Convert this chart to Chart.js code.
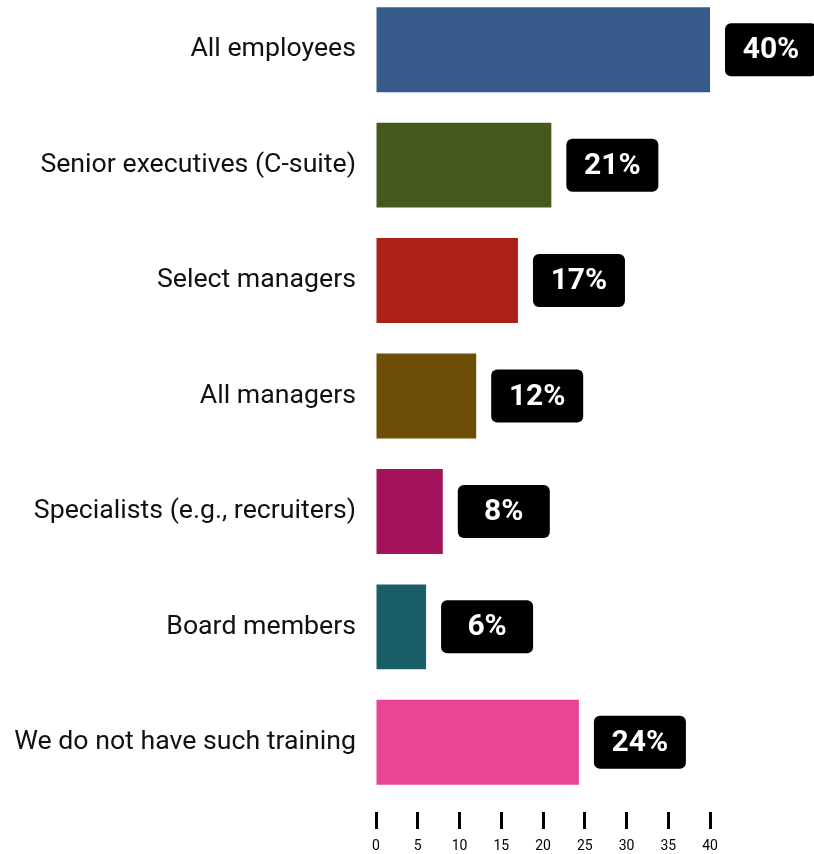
<!DOCTYPE html>
<html>
<head>
<meta charset="utf-8">
<script src="https://cdn.jsdelivr.net/npm/chart.js@4"></script>
<style>
  html, body { margin: 0; padding: 0; background: #fff; overflow: hidden; }
  #wrap { position: absolute; left: 0; top: -8px; width: 814px; height: 862px; }
</style>
</head>
<body>
<div id="wrap"><canvas id="chart" width="814" height="862"></canvas></div>
<script>
// data
const categories = [
    'All employees',
    'Senior executives (C-suite)',
    'Select managers',
    'All managers',
    'Specialists (e.g., recruiters)',
    'Board members',
    'We do not have such training'
];
const values = [40, 21, 17, 12, 8, 6, 24.3];
const valueLabels = ['40%', '21%', '17%', '12%', '8%', '6%', '24%'];
const barColors = ['#365b8a', '#45591d', '#ab2118', '#6e4d06', '#a3125a', '#1a5f68', '#eb4497'];
const xTicks = [0, 5, 10, 15, 20, 25, 30, 35, 40];

// black value boxes to the right of each bar
const valueBoxes = {
    id: 'valueBoxes',
    afterDatasetsDraw(chart) {
        const ctx = chart.ctx;
        const meta = chart.getDatasetMeta(0);
        ctx.save();
        meta.data.forEach(function (bar, i) {
            const x = bar.x + 15;
            const y = bar.y - 26.5;
            ctx.fillStyle = '#000';
            ctx.beginPath();
            ctx.roundRect(x, y, 92, 53, 6);
            ctx.fill();
            ctx.fillStyle = '#fff';
            ctx.font = 'bold 30px Roboto';
            ctx.textAlign = 'center';
            ctx.textBaseline = 'middle';
            ctx.fillText(valueLabels[i], x + 46, bar.y + 1);
        });
        ctx.restore();
    }
};

const ctx = document.getElementById('chart').getContext('2d');
const chart = new Chart(ctx, {
    type: 'bar',
    data: {
        labels: categories,
        datasets: [{
            data: values,
            backgroundColor: barColors,
            borderWidth: 0,
            barPercentage: 0.736,
            categoryPercentage: 1
        }]
    },
    options: {
        indexAxis: 'y',
        responsive: false,
        animation: false,
        layout: { padding: { left: 0, right: 104, top: 0, bottom: 0 } },
        plugins: {
            legend: { display: false },
            tooltip: { enabled: false }
        },
        scales: {
            x: {
                min: 0,
                max: 40,
                afterBuildTicks: function (scale) {
                    scale.ticks = xTicks.map(v => ({ value: v }));
                },
                afterFit: function (scale) {
                    scale.height = 54;
                    scale.paddingLeft = 0;
                    scale.paddingRight = 0;
                },
                border: { display: false },
                grid: {
                    drawOnChartArea: false,
                    drawTicks: true,
                    tickLength: 29,
                    tickWidth: 3,
                    tickColor: '#000',
                    tickBorderDash: [0, 12, 17, 100]
                },
                ticks: {
                    padding: 9,
                    color: '#000',
                    font: { family: 'Roboto', size: 14 }
                }
            },
            y: {
                afterFit: function (scale) {
                    scale.width = 376;
                    scale.paddingTop = 0;
                    scale.paddingBottom = 0;
                },
                border: { display: false },
                grid: { display: false, drawTicks: false },
                ticks: {
                    padding: 20,
                    color: '#111',
                    font: { family: 'Roboto', size: 26.7 }
                }
            }
        }
    },
    plugins: [valueBoxes]
});
</script>
</body>
</html>
